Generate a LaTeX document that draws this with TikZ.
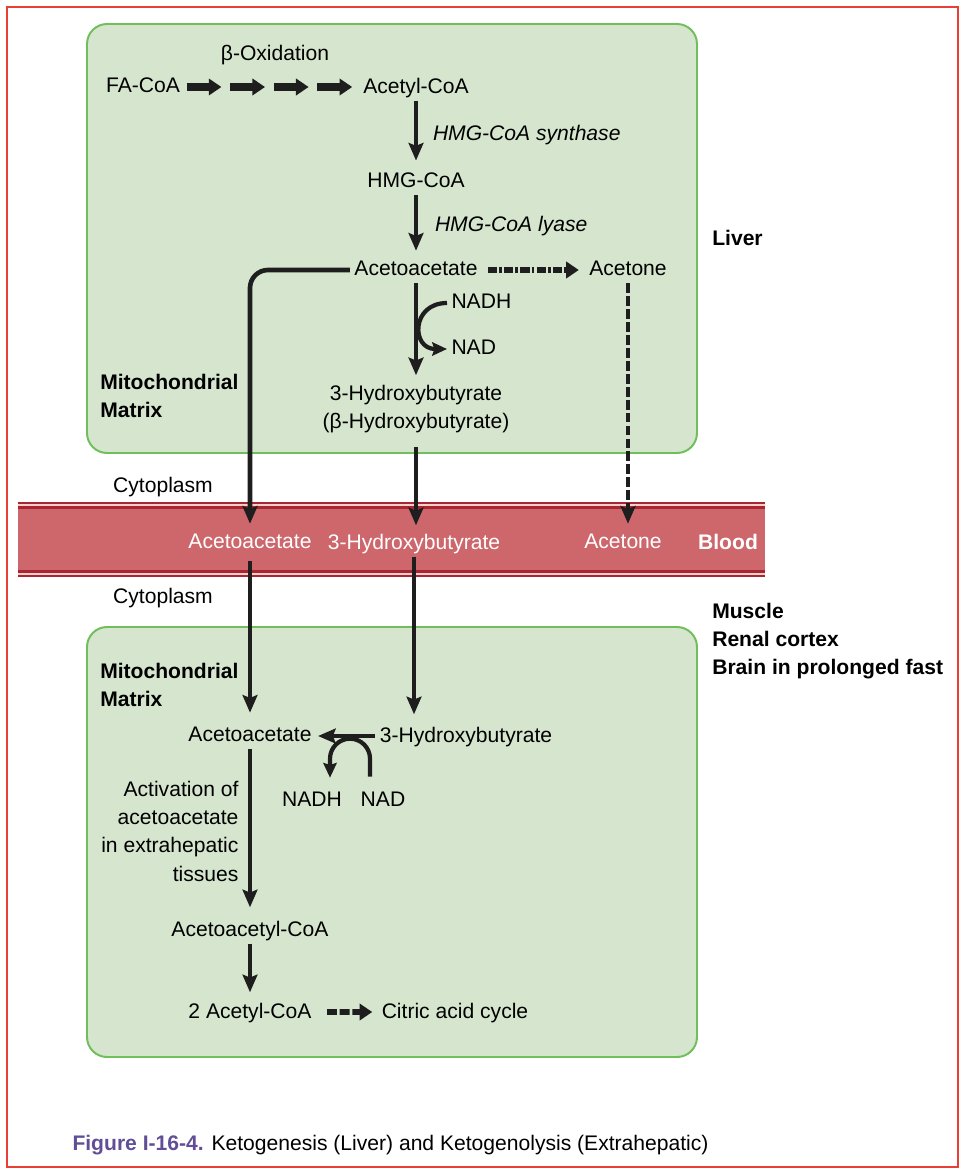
\documentclass[tikz,border=0pt]{standalone}
\usepackage{fontspec}
\setmainfont{Liberation Sans}
\usetikzlibrary{arrows.meta, positioning, calc}
\definecolor{matrixfill}{RGB}{214,230,206}
\definecolor{matrixline}{RGB}{112,190,92}
\definecolor{bloodred}{RGB}{205,103,108}
\definecolor{blooddark}{RGB}{168,38,52}
\definecolor{bloodpink}{RGB}{248,208,200}
\definecolor{framered}{RGB}{232,64,52}
\definecolor{figpurple}{RGB}{98,78,150}
\definecolor{ink}{RGB}{30,30,30}
\tikzstyle{matrixbox} = [rounded corners=0.5cm, draw=matrixline, line width=1.4pt, fill=matrixfill]
\tikzstyle{chem} = [font=\fontsize{15}{20}\selectfont, inner sep=3pt, text depth=0.22em, align=center]
\tikzstyle{enzyme} = [font=\fontsize{15}{20}\selectfont\itshape, anchor=west]
\tikzstyle{site} = [font=\fontsize{15}{20}\selectfont\bfseries, align=left, anchor=west, inner sep=0pt]
\tikzstyle{inblood} = [chem, text=white]
\tikzstyle{arrow} = [line width=3.3pt, draw=ink, -{Stealth[length=12.5pt, width=10.5pt, inset=2pt]}, shorten >=0.15cm]
\tikzstyle{fatarrow} = [line width=5pt, draw=ink, -{Triangle[length=9pt, width=11.5pt]}]
\tikzstyle{dotarrow} = [fatarrow, line width=3.8pt, dash pattern=on 6.5pt off 1.5pt on 2pt off 1.5pt]
\tikzstyle{dasharrow} = [fatarrow, line width=4.2pt, dash pattern=on 7pt off 2pt]
\tikzstyle{dashline} = [arrow, dash pattern=on 7pt off 2.2pt]
\tikzstyle{cofactor} = [line width=3pt, draw=ink, -{Stealth[length=10.5pt, width=9.5pt, inset=1.5pt]}]

\begin{document}
\begin{tikzpicture}
        \useasboundingbox (0,0) rectangle (24.15,-29.25);
        \draw[framered, line width=0.9pt] (0.175,-0.175) rectangle (23.95,-29.175);

        % compartments and blood
        \draw[matrixbox] (2.175,-0.6) rectangle (17.425,-11.325);
        \draw[matrixbox] (2.175,-15.675) rectangle (17.425,-26.425);
        \fill[blooddark] (0.45,-12.55) rectangle (19.125,-14.425);
        \fill[bloodpink] (0.45,-12.6) rectangle (19.125,-12.65);
        \fill[bloodpink] (0.45,-14.3125) rectangle (19.125,-14.375);
        \fill[bloodred] (0.45,-12.725) rectangle (19.125,-14.25);

        % liver
        \node (acetyl) [chem] at (10.4,-2.175) {Acetyl-CoA};
        \node (faco) [chem, node distance=6.825cm, left of=acetyl] {FA-CoA};
        \node (betaox) [chem] at (6.875,-1.35) {β-Oxidation};
        \node (hmg) [chem, node distance=2.375cm, below of=acetyl] {HMG-CoA};
        \node (aceL) [chem, node distance=2.2cm, below of=hmg] {Acetoacetate};
        \node (acetone) [chem, node distance=5.3cm, right of=aceL] {Acetone};
        \node (hydL) [chem, node distance=3.45cm, below of=aceL] {3-Hydroxybutyrate\\(β-Hydroxybutyrate)};
        \node (nadhL) [chem, anchor=west] at (11.175,-7.575) {NADH};
        \node (nadL) [chem, anchor=west] at (11.175,-8.725) {NAD};
        \node (liver) [site] at (17.8,-5.95) {Liver};
        \node (mitoL) [site] at (2.5,-9.9) {Mitochondrial\\Matrix};
        \node (cytoA) [chem] at (4.075,-12.15) {Cytoplasm};

        % blood
        \node (bAce) [inblood] at (6.25,-13.575) {Acetoacetate};
        \node (bHyd) [inblood] at (10.35,-13.575) {3-Hydroxybutyrate};
        \node (bAcn) [inblood] at (15.575,-13.575) {Acetone};
        \node (blood) [inblood, font=\fontsize{15}{20}\selectfont\bfseries] at (18.2,-13.575) {Blood};

        % extrahepatic
        \node (cytoB) [chem] at (4.075,-14.925) {Cytoplasm};
        \node (tissue) [site] at (17.8,-16.025) {Muscle\\Renal cortex\\Brain in prolonged fast};
        \node (mitoB) [site] at (2.5,-17.125) {Mitochondrial\\Matrix};
        \node (aceB) [chem] at (6.25,-18.4) {Acetoacetate};
        \node (hydB) [chem] at (11.65,-18.4) {3-Hydroxybutyrate};
        \node (nadhB) [chem] at (7.8,-20.025) {NADH};
        \node (nadB) [chem] at (9.575,-20.025) {NAD};
        \node (acacoa) [chem, node distance=4.85cm, below of=aceB] {Acetoacetyl-CoA};
        \node (acco2) [chem, node distance=2.05cm, below of=acacoa] {2 Acetyl-CoA};
        \node (citric) [chem] at (11.375,-25.3) {Citric acid cycle};
        \node (caption) [chem, anchor=west] at (1.7,-28.6) {\textcolor{figpurple}{\bfseries Figure I-16-4.} Ketogenesis (Liver) and Ketogenolysis (Extrahepatic)};

        % liver connectors
        \foreach \i in {0,...,3}
            \draw [fatarrow] ($(faco.east)!{(\i+0.05)/4}!(acetyl.west)$) -- ($(faco.east)!{(\i+0.85)/4}!(acetyl.west)$);
        \draw [arrow, shorten >=0.2cm] (acetyl) --node[enzyme, xshift=0.25cm] {HMG-CoA synthase} (hmg);
        \draw [arrow] (hmg) --node[enzyme, xshift=0.3cm] {HMG-CoA lyase} (aceL);
        \draw [dotarrow, shorten <=0.15cm, shorten >=0.15cm] (aceL) -- (acetone);
        \draw [arrow, shorten >=0.125cm] (aceL) -- (hydL);
        \draw [cofactor] (nadhL.west) .. controls +(-0.9,0) and +(-0.9,0) .. (nadL.west);
        \draw [arrow, rounded corners=0.45cm] (aceL.west) -| (bAce.north);
        \draw [dashline] (acetone.south) -- (acetone.south |- bAcn.north);
        \draw [arrow, shorten <=0.275cm, shorten >=0.1cm] (hydL.south) -- (hydL.south |- bHyd.north);

        % extrahepatic connectors
        \draw [arrow, shorten <=0.125cm, shorten >=0.25cm] (bAce) -- (aceB);
        \draw [arrow, shorten >=0.2cm] (bHyd.south) -- (bHyd.south |- hydB.north);
        \draw [arrow, shorten >=0.05cm] (hydB) -- (aceB);
        \draw [cofactor] ([xshift=-0.325cm, yshift=0.275cm]nadB.north) -- ++(0,0.45) arc[start angle=0, end angle=180, radius=0.5cm] -- ([xshift=0.45cm, yshift=0.25cm]nadhB.north);
        \draw [arrow, shorten >=0.225cm] (aceB) --node[chem, align=right, anchor=east, xshift=-0.125cm] {Activation of\\acetoacetate\\in extrahepatic\\tissues} (acacoa);
        \draw [arrow] (acacoa) -- (acco2);
        \draw [dasharrow, shorten <=0.275cm, shorten >=0.125cm] (acco2) -- (citric);
    \end{tikzpicture}
\end{document}
